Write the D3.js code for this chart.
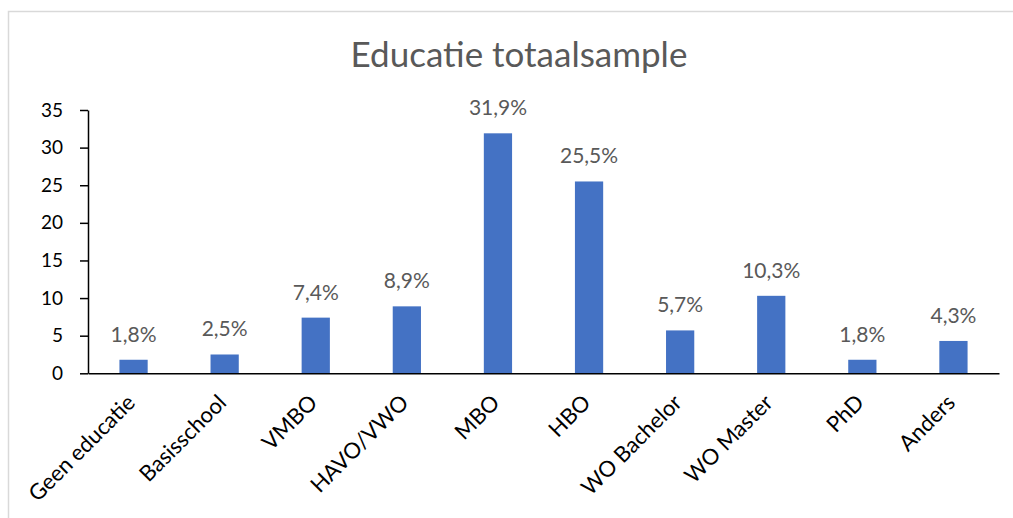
<!DOCTYPE html>
<html>
<head>
<meta charset="utf-8">
<script src="https://cdn.jsdelivr.net/npm/d3@7"></script>
<style>
  html, body { margin: 0; padding: 0; background: #fff; }
  svg { display: block; }
  text { font-family: Lato, "Open Sans", sans-serif; }
</style>
</head>
<body>
<svg id="chart" width="1013" height="518"></svg>
<script>
// Education levels in the full sample (percent of respondents)
const categories = ["Geen educatie", "Basisschool", "VMBO", "HAVO/VWO", "MBO", "HBO",
                    "WO Bachelor", "WO Master", "PhD", "Anders"];
const percentages = [1.8, 2.5, 7.4, 8.9, 31.9, 25.5, 5.7, 10.3, 1.8, 4.3];
const yTicks = [0, 5, 10, 15, 20, 25, 30, 35];
const title = "Educatie totaalsample";

const svg = d3.select("#chart");
const W = 1013, H = 518;
const plot = { left: 88, right: 999, top: 110, bottom: 373.3 };

// Chart frame (only the top and left edges fall inside the view)
svg.append("path")
  .attr("d", `M8.5,${H} V11.5 H${W}`)
  .attr("fill", "none")
  .attr("stroke", "#d9d9d9")
  .attr("stroke-width", 1.5);

// Title
svg.append("text")
  .attr("x", 519)
  .attr("y", 67)
  .attr("text-anchor", "middle")
  .attr("fill", "#595959")
  .attr("font-size", 35)
  .text(title);

const x = d3.scaleBand()
  .domain(categories)
  .range([plot.left, plot.right])
  .paddingInner(0.69)
  .paddingOuter(0.345);

const y = d3.scaleLinear()
  .domain([0, 35])
  .range([plot.bottom, plot.top]);

// Bars
svg.append("g")
  .selectAll("rect")
  .data(categories)
  .join("rect")
  .attr("x", d => x(d))
  .attr("width", x.bandwidth())
  .attr("y", (d, i) => y(percentages[i]))
  .attr("height", (d, i) => y(0) - y(percentages[i]))
  .attr("fill", "#4472c4");

// Value labels
const fmt = v => v.toFixed(1).replace(".", ",") + "%";
svg.append("g")
  .selectAll("text")
  .data(categories)
  .join("text")
  .attr("x", d => x(d) + x.bandwidth() / 2)
  .attr("y", (d, i) => y(percentages[i]) - 18)
  .attr("text-anchor", "middle")
  .attr("fill", "#595959")
  .attr("font-size", 21)
  .text((d, i) => fmt(percentages[i]));

// Y axis
const yAxis = svg.append("g")
  .attr("transform", `translate(${plot.left},0)`)
  .call(d3.axisLeft(y).tickValues(yTicks).tickSize(8).tickSizeOuter(0).tickPadding(17)
    .tickFormat(d3.format("d")));
yAxis.select(".domain").attr("stroke", "#000").attr("stroke-width", 1.5);
yAxis.selectAll(".tick line").attr("stroke", "#000").attr("stroke-width", 1.5);
yAxis.selectAll(".tick text")
  .attr("fill", "#000")
  .attr("font-size", 19)
  .attr("font-family", "Lato, 'Open Sans', sans-serif");

// X axis baseline
const xAxis = svg.append("g")
  .attr("transform", `translate(0,${y(0)})`)
  .call(d3.axisBottom(x).tickSize(0).tickSizeOuter(0).tickFormat(""));
xAxis.select(".domain").attr("stroke", "#000").attr("stroke-width", 1.5);
xAxis.selectAll(".tick").remove();

// Rotated category labels
svg.append("g")
  .selectAll("text")
  .data(categories)
  .join("text")
  .attr("transform", d => `translate(${x(d) + x.bandwidth() / 2 + 3},404) rotate(-45)`)
  .attr("text-anchor", "end")
  .attr("fill", "#000")
  .attr("font-size", 22)
  .text(d => d);
</script>
</body>
</html>
